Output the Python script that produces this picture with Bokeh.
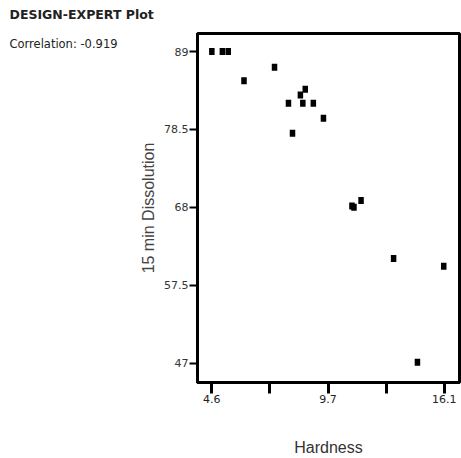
from bokeh.plotting import figure
from bokeh.models import FixedTicker, Label, Range1d, ColumnDataSource
from bokeh.embed import file_html
from bokeh.resources import INLINE

# ---- data ----
hardness = [4.6, 5.12, 5.41, 6.19, 7.70, 8.39, 8.59, 8.98, 9.10, 9.22, 9.62, 10.12,
            11.53, 11.63, 11.98, 13.59, 14.77, 16.07]
dissolution = [89.0, 89.0, 89.0, 85.05, 86.87, 82.02, 78.0, 83.14, 82.02, 83.93, 82.02, 80.0,
               68.18, 68.0, 68.92, 61.09, 47.13, 60.07]

x_ticks = [4.6, 7.475, 10.35, 13.225, 16.1]
x_tick_labels = ["4.6", "", "9.7", "", "16.1"]
y_ticks = [47, 57.5, 68, 78.5, 89]
y_tick_labels = ["47", "57.5", "68", "78.5", "89"]

header_title = "DESIGN-EXPERT Plot"
header_corr = "Correlation: -0.919"
x_title = "Hardness"
y_title = "15 min Dissolution"

# ---- figure ----
p = figure(width=461, height=458, output_backend="svg", toolbar_location=None,
           x_range=Range1d(3.89, 16.85), y_range=Range1d(44.39, 91.43),
           min_border_left=197, min_border_right=2, min_border_top=33, min_border_bottom=76)

p.background_fill_color = "white"
p.border_fill_color = "white"
p.outline_line_color = "black"
p.outline_line_width = 3
p.xgrid.grid_line_color = None
p.ygrid.grid_line_color = None

src = ColumnDataSource(data=dict(x=hardness, y=dissolution))
p.rect(x="x", y="y", width=5.5, height=7, width_units="screen", height_units="screen",
       source=src, fill_color="black", line_color=None)

# x axis
xa = p.xaxis[0]
xa.ticker = FixedTicker(ticks=x_ticks)
xa.major_label_overrides = {t: l for t, l in zip(x_ticks, x_tick_labels)}
xa.axis_line_width = 3
xa.major_tick_line_width = 3
xa.major_tick_out = 11
xa.major_tick_in = 0
xa.minor_tick_line_color = None
xa.major_label_text_font = "DejaVu Sans"
xa.major_label_text_font_size = "11px"
xa.major_label_text_color = "#222222"
xa.major_label_standoff = 1
xa.axis_label = x_title
xa.axis_label_text_font = "Liberation Sans"
xa.axis_label_text_font_size = "16px"
xa.axis_label_text_font_style = "normal"
xa.axis_label_text_color = "#333333"
xa.axis_label_standoff = 33

# y axis
ya = p.yaxis[0]
ya.ticker = FixedTicker(ticks=y_ticks)
ya.major_label_overrides = {t: l for t, l in zip(y_ticks, y_tick_labels)}
ya.axis_line_width = 3
ya.major_tick_line_width = 2
ya.major_tick_out = 8
ya.major_tick_in = 0
ya.minor_tick_line_color = None
ya.major_label_text_font = "DejaVu Sans"
ya.major_label_text_font_size = "11px"
ya.major_label_text_color = "#333333"
ya.major_label_standoff = 1
ya.axis_label = y_title
ya.axis_label_text_font = "Liberation Sans"
ya.axis_label_text_font_size = "16px"
ya.axis_label_text_font_style = "normal"
ya.axis_label_text_color = "#444444"
ya.axis_label_standoff = 4

# header texts, placed in the top side panel (not clipped to the frame)
p.add_layout(Label(x=-188, y=-10, x_units="screen", y_units="screen", text=header_corr,
                   text_font="DejaVu Sans", text_font_size="11.5px",
                   text_color="#222222", text_baseline="alphabetic"), "above")
p.add_layout(Label(x=-188, y=5, x_units="screen", y_units="screen", text=header_title,
                   text_font="DejaVu Sans", text_font_size="12.5px", text_font_style="bold",
                   text_color="#222222", text_baseline="alphabetic"), "above")

open("out.html", "w").write(file_html(p, INLINE))
